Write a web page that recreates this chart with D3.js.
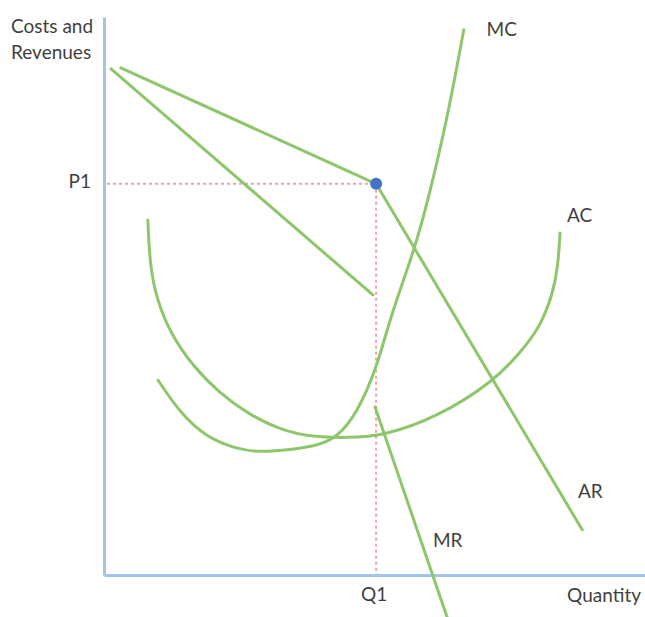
<!DOCTYPE html>
<html>
<head>
<meta charset="utf-8">
<script src="https://cdn.jsdelivr.net/npm/d3@7"></script>
<style>
  body { margin: 0; background: #fff; }
  text { font-family: Lato, "Open Sans", sans-serif; fill: #3f3f3f; }
</style>
</head>
<body>
<script>
// data, in chart units (quantity 0-100, costs/revenues 0-100)
var arPoints = [[3.1, 90.9], [50.3, 70.1], [88.4, 8.1]];
var mrUpper = [[1.3, 90.7], [49.7, 50.2]];
var mrLower = [[50.1, 30.1], [63.4, -7.5]];
var mcPoints = [[10.0, 34.9], [14.1, 29.0], [19.0, 24.6], [24.6, 22.6], [28.5, 22.0],
  [34.4, 22.4], [39.9, 23.3], [43.1, 24.7], [46.8, 29.0], [50.5, 37.3],
  [52.9, 46.2], [57.5, 58.6], [59.9, 67.2], [63.4, 81.5], [66.5, 97.7]];
var acPoints = [[8.1, 63.6], [8.5, 55.2], [9.8, 49.3], [12.2, 43.4], [16.5, 37.3],
  [21.4, 32.6], [26.4, 29.0], [32.5, 26.0], [38.6, 24.7], [44.9, 24.6],
  [51.6, 24.9], [61.6, 28.3], [71.9, 34.6], [76.9, 39.8], [80.6, 44.4],
  [83.0, 50.5], [83.9, 55.2], [84.3, 61.3]];
var q1 = 50.3;
var p1 = 70.1;
var curveLabels = [
  { text: 'MC', x: 70.7, y: 96.6 },
  { text: 'AC', x: 85.6, y: 63.3 },
  { text: 'AR', x: 87.6, y: 13.8 },
  { text: 'MR', x: 60.8, y: 5.0 }
];

var width = 645;
var height = 617;

var svg = d3.select('body')
  .append('svg')
  .attr('width', width)
  .attr('height', height);

var x = d3.scaleLinear().domain([0, 100]).range([104, 645]);
var y = d3.scaleLinear().domain([0, 100]).range([575, 17]);

var green = '#8dc66b';
var pink = '#f2a2a6';

// axes: plain lines, no ticks
var yAxis = svg.append('g')
  .attr('transform', 'translate(' + x(0) + ',0)')
  .call(d3.axisLeft(y).ticks(0).tickSize(0).tickSizeOuter(0));
var xAxis = svg.append('g')
  .attr('transform', 'translate(0,' + y(0) + ')')
  .call(d3.axisBottom(x).ticks(0).tickSize(0).tickSizeOuter(0));
[yAxis, xAxis].forEach(function(a) {
  a.select('.domain')
    .attr('stroke', '#9fc6ea')
    .attr('stroke-width', 3);
});

// dotted guides to P1 / Q1
svg.append('line')
  .attr('x1', x(0) + 3).attr('y1', y(p1))
  .attr('x2', x(q1)).attr('y2', y(p1))
  .attr('stroke', pink).attr('stroke-width', 2)
  .attr('stroke-dasharray', '3,3');
svg.append('line')
  .attr('x1', x(q1)).attr('y1', y(p1))
  .attr('x2', x(q1)).attr('y2', y(0) - 1)
  .attr('stroke', pink).attr('stroke-width', 2)
  .attr('stroke-dasharray', '3,3');

var straight = d3.line()
  .x(function(d) { return x(d[0]); })
  .y(function(d) { return y(d[1]); });
var smooth = d3.line()
  .x(function(d) { return x(d[0]); })
  .y(function(d) { return y(d[1]); })
  .curve(d3.curveBasis);

[[acPoints, smooth], [mcPoints, smooth], [mrUpper, straight], [mrLower, straight], [arPoints, straight]]
  .forEach(function(c) {
    svg.append('path')
      .datum(c[0])
      .attr('d', c[1])
      .attr('fill', 'none')
      .attr('stroke', green)
      .attr('stroke-width', 3)
      .attr('stroke-linecap', 'round')
      .attr('stroke-linejoin', 'round');
  });

svg.append('circle')
  .attr('cx', x(q1))
  .attr('cy', y(p1))
  .attr('r', 6)
  .attr('fill', '#4472c4');

// labels
var fs = 19;
svg.append('text').attr('x', 11).attr('y', 33).attr('font-size', fs).text('Costs and');
svg.append('text').attr('x', 11).attr('y', 59).attr('font-size', fs).text('Revenues');
svg.append('text').attr('x', 91).attr('y', y(p1) + 4).attr('font-size', fs)
  .attr('text-anchor', 'end').text('P1');
svg.append('text').attr('x', x(q1) - 2).attr('y', 601).attr('font-size', fs)
  .attr('text-anchor', 'middle').text('Q1');
svg.append('text').attr('x', 641).attr('y', 602).attr('font-size', fs)
  .attr('text-anchor', 'end').text('Quantity');

svg.selectAll('.curve-label')
  .data(curveLabels)
  .enter()
  .append('text')
  .attr('class', 'curve-label')
  .attr('x', function(d) { return x(d.x); })
  .attr('y', function(d) { return y(d.y); })
  .attr('font-size', fs)
  .text(function(d) { return d.text; });
</script>
</body>
</html>
